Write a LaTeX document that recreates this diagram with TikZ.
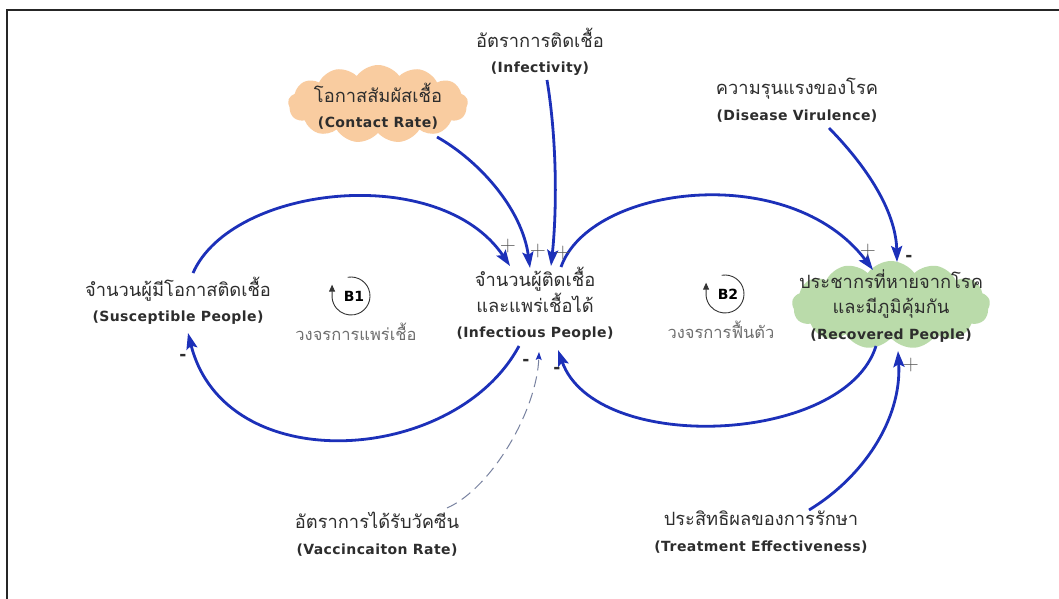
\documentclass[tikz,border=0pt]{standalone}
\usepackage{fontspec}
\usetikzlibrary{arrows.meta,shapes.symbols,calc}
\newfontfamily\thai[Script=Thai]{Loma}
\newfontfamily\latn{DejaVu Sans}
\newfontfamily\latnspaced{DejaVu Sans}[LetterSpace=3]
\definecolor{linkblue}{RGB}{28,48,185}
\definecolor{peach}{RGB}{249,204,160}
\definecolor{mint}{RGB}{186,219,170}
\definecolor{ink}{RGB}{45,45,45}
\definecolor{loopgray}{RGB}{110,110,110}
\definecolor{dashgray}{RGB}{120,130,160}
\newcommand\eng[1]{{\latnspaced\bfseries\fontsize{14}{25.5}\selectfont #1}}

\begin{document}
\begin{tikzpicture}[x=1pt,y=-1pt,
  var/.style={align=center, inner sep=0pt, text=ink,
    font=\thai\fontsize{18.3}{25.5}\selectfont},
  looplabel/.style={inner sep=0pt, text=loopgray,
    font=\thai\fontsize{16.5}{20}\selectfont},
  link/.style={draw=linkblue, line width=2.8pt,
    -{Stealth[length=16pt,width=11pt,inset=3pt]}},
  vlink/.style={draw=dashgray, line width=1pt, dash pattern=on 11pt off 6pt,
    -{Stealth[length=8pt,width=6pt,inset=1.5pt,color=linkblue]}},
  plus/.style={inner sep=0pt, text=black!65, font=\sffamily\fontsize{22}{22}\selectfont},
  minus/.style={inner sep=0pt, text=ink, font=\latn\bfseries\fontsize{17}{17}\selectfont},
  puff/.style={cloud, cloud puffs=13, cloud puff arc=110, cloud ignores aspect,
    inner sep=0pt, draw=none},
  loopmark/.style={draw=black!80, line width=0.9pt},
  looptag/.style={inner sep=0pt, font=\latn\bfseries\fontsize{14}{14}\selectfont},
]
\useasboundingbox (0,0) rectangle (1059,599);
\fill[white] (0,0) rectangle (1059,599);

% frame
\draw[line width=2.6pt, black!85] (7,599) -- (7,10) -- (1059,10);

% cloud backgrounds
\node[puff, fill=peach, minimum width=180, minimum height=78] (contactbg) at (378,104) {};
\node[puff, fill=mint, minimum width=198, minimum height=88] (recbg) at (891,305) {};

% variables
\node[var] (infy) at (540,52) {อัตราการติดเชื้อ\\\eng{(Infectivity)}};
\node[var] (contact) at (378,106) {โอกาสสัมผัสเชื้อ\\\eng{(Contact Rate)}};
\node[var] (virul) at (797,100) {ความรุนแรงของโรค\\\eng{(Disease Virulence)}};
\node[var] (sus) at (178,301) {จำนวนผู้มีโอกาสติดเชื้อ\\\eng{(Susceptible People)}};
\node[var] (inf) at (535,304) {จำนวนผู้ติดเชื้อ\\และแพร่เชื้อได้\\\eng{(Infectious People)}};
\node[var] (rec) at (891,306) {ประชากรที่หายจากโรค\\และมีภูมิคุ้มกัน\\\eng{(Recovered People)}};
\node[var] (vacc) at (377,534) {อัตราการได้รับวัคซีน\\\eng{(Vaccincaiton Rate)}};
\node[var] (treat) at (761,532) {ประสิทธิผลของการรักษา\\\eng{(Treatment Effectiveness)}};

% loop labels
\node[looplabel] (b1txt) at (356,332) {วงจรการแพร่เชื้อ};
\node[looplabel] (b2txt) at (721,330) {วงจรการฟื้นตัว};

% loop markers
\node[looptag] (b1) at (354,296) {B1};
\draw[loopmark, -{Triangle[length=7pt,width=6pt]}]
  ($(b1)+(-3,0)$) ++(-100:19) arc[start angle=-100, end angle=175, radius=19] -- ++(0,-13);
\node[looptag] (b2) at (728,294) {B2};
\draw[loopmark, -{Triangle[length=7pt,width=6pt]}]
  ($(b2)+(-3,0)$) ++(-100:19) arc[start angle=-100, end angle=175, radius=19] -- ++(0,-13);

% causal links
\draw[link] ($(sus)+(15,-28)$) .. controls (232,185) and (440,162) .. ($(inf)+(-25,-38)$);
\draw[link] ($(contact)+(59,31)$) .. controls (478,160) and (522,208) .. ($(inf)+(-5,-36)$);
\draw[link] ($(infy)+(7,28)$) .. controls (557,140) and (557,210) .. ($(inf)+(16,-38)$);
\draw[link] ($(inf)+(26,-37)$) .. controls (590,185) and (790,160) .. ($(rec)+(-18,-36)$);
\draw[link] ($(virul)+(32,28)$) .. controls (872,172) and (896,215) .. ($(rec)+(6,-44)$);
\draw[link] ($(inf)+(-16,42)$) .. controls (455,465) and (225,480) .. ($(sus)+(10,32)$);
\draw[link] ($(rec)+(-15,40)$) .. controls (845,445) and (595,455) .. ($(inf)+(23,46)$);
\draw[link] ($(treat)+(48,-22)$) .. controls (862,478) and (902,420) .. ($(rec)+(7,45)$);
\draw[vlink] ($(vacc)+(70,-26)$) .. controls (492,488) and (537,410) .. ($(inf)+(4,48)$);

% polarities
\node[plus] (s1) at (508,246) {+};
\node[plus] (s2) at (538,251) {+};
\node[plus] (s3) at (563,253) {+};
\node[plus] (s4) at (868,251) {+};
\node[minus] (s5) at (909,258) {-};
\node[plus] (s6) at (911,365) {+};
\node[minus] (s7) at (183,357) {-};
\node[minus] (s8) at (526,362) {-};
\node[minus] (s9) at (557,370) {-};
\end{tikzpicture}
\end{document}
